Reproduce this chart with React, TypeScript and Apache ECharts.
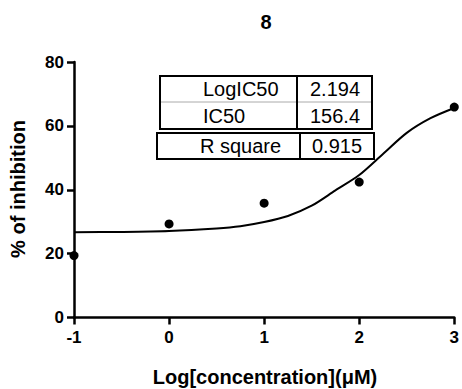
import React, { useEffect, useRef } from "react";
import * as echarts from "echarts";

const doseX = [-1, 0, 1, 2, 3];
const inhibition = [19.4, 29.3, 35.8, 42.4, 65.9];

const fitX = [-1, -0.5, 0, 0.5, 0.75, 1, 1.25, 1.5, 1.75, 2, 2.25, 2.5, 2.75, 3];
const fitY = [26.7, 26.8, 27.1, 27.9, 28.6, 29.9, 31.8, 35.0, 39.8, 44.6, 51.2, 57.8, 62.4, 65.6];

const tableLabels = ["LogIC50", "IC50", "R square"];
const tableValues = ["2.194", "156.4", "0.915"];

const titleText = "8";
const xName = "Log[concentration](\u03BCM)";
const yName = "% of inhibition";

const FONT = "'Liberation Sans', Arial, Helvetica, sans-serif";

export default function App() {
  const ref = useRef<HTMLDivElement>(null);
  useEffect(() => {
    if (!ref.current) return;
    const chart = echarts.init(ref.current, undefined, { renderer: "svg" });
    const axisCommon = {
      axisLine: { show: true, onZero: false, lineStyle: { color: "#000", width: 2.5 } },
      axisTick: { show: true, inside: false, length: 7, lineStyle: { color: "#000", width: 2.5 } },
      splitLine: { show: false },
      axisLabel: { color: "#000", fontSize: 17, fontWeight: "bold", fontFamily: FONT, margin: 10 },
    };
    const textStyle = { fontFamily: FONT, fontSize: 20, fill: "#000" };
    chart.setOption({
      animation: false,
      backgroundColor: "#fff",
      graphic: [
        {
          type: "text",
          x: 266,
          y: 22,
          style: {
            text: titleText,
            fontFamily: FONT,
            fontSize: 20,
            fontWeight: "bold",
            fill: "#000",
            align: "center",
            verticalAlign: "middle",
          },
          silent: true,
        },
        {
          type: "text",
          x: 265,
          y: 377,
          style: {
            text: xName,
            fontFamily: FONT,
            fontSize: 20,
            fontWeight: "bold",
            fill: "#000",
            align: "center",
            verticalAlign: "middle",
          },
          silent: true,
        },
        {
          type: "text",
          x: 18,
          y: 189,
          rotation: Math.PI / 2,
          style: {
            text: yName,
            fontFamily: FONT,
            fontSize: 20,
            fontWeight: "bold",
            fill: "#000",
            align: "center",
            verticalAlign: "middle",
          },
          silent: true,
        },
        {
          type: "rect",
          z: 10,
          shape: { x: 160, y: 76, width: 212, height: 53 },
          style: { fill: "#fff", stroke: "#000", lineWidth: 2 },
        },
        {
          type: "line",
          z: 11,
          shape: { x1: 161, y1: 102, x2: 371, y2: 102 },
          style: { stroke: "#aaa", lineWidth: 1 },
        },
        {
          type: "line",
          z: 11,
          shape: { x1: 297, y1: 76, x2: 297, y2: 129 },
          style: { stroke: "#000", lineWidth: 2 },
        },
        {
          type: "rect",
          z: 10,
          shape: { x: 157, y: 133, width: 217, height: 26 },
          style: { fill: "#fff", stroke: "#000", lineWidth: 2 },
        },
        {
          type: "line",
          z: 11,
          shape: { x1: 300, y1: 133, x2: 300, y2: 159 },
          style: { stroke: "#000", lineWidth: 2 },
        },
        { type: "text", z: 12, x: 203, y: 89, style: { ...textStyle, text: tableLabels[0], align: "left", verticalAlign: "middle" } },
        { type: "text", z: 12, x: 203, y: 115.5, style: { ...textStyle, text: tableLabels[1], align: "left", verticalAlign: "middle" } },
        { type: "text", z: 12, x: 200, y: 146, style: { ...textStyle, text: tableLabels[2], align: "left", verticalAlign: "middle" } },
        { type: "text", z: 12, x: 335, y: 89, style: { ...textStyle, text: tableValues[0], align: "center", verticalAlign: "middle" } },
        { type: "text", z: 12, x: 335, y: 115.5, style: { ...textStyle, text: tableValues[1], align: "center", verticalAlign: "middle" } },
        { type: "text", z: 12, x: 337, y: 146, style: { ...textStyle, text: tableValues[2], align: "center", verticalAlign: "middle" } },
      ],
      grid: { left: 74, right: 5.3, top: 62, bottom: 71.5, containLabel: false },
      xAxis: {
        type: "value",
        min: -1,
        max: 3,
        interval: 1,
        ...axisCommon,
        axisLabel: { ...axisCommon.axisLabel, margin: 11 },
      },
      yAxis: {
        type: "value",
        min: 0,
        max: 80,
        interval: 20,
        ...axisCommon,
      },
      series: [
        {
          type: "line",
          data: fitX.map((x, i) => [x, fitY[i]]),
          smooth: 0.3,
          showSymbol: false,
          lineStyle: { color: "#000", width: 2 },
          z: 2,
          silent: true,
        },
        {
          type: "scatter",
          data: doseX.map((x, i) => [x, inhibition[i]]),
          symbol: "circle",
          symbolSize: 9,
          itemStyle: { color: "#000", opacity: 1 },
          z: 3,
          silent: true,
        },
      ],
    });
    return () => chart.dispose();
  }, []);
  return (
    <div
      ref={ref}
      style={{ position: "absolute", left: 0, top: 0, width: 462, height: 389, background: "#fff" }}
    />
  );
}
